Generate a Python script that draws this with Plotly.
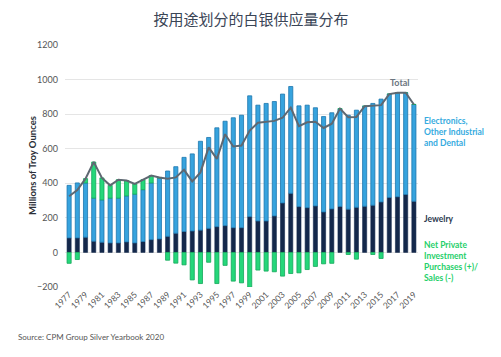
import plotly.graph_objects as go

years = list(range(1977, 2020))

jewelry = [84, 84, 88, 65, 59, 55, 55, 61, 55, 63, 74, 78, 93, 111, 121, 124, 129, 139,
           149, 155, 143, 143, 207, 182, 182, 211, 286, 342, 265, 259, 269, 234, 252,
           266, 250, 261, 267, 273, 292, 318, 322, 335, 296]

electronics = [304, 318, 314, 249, 245, 259, 259, 266, 282, 300, 328, 352, 378, 385, 429,
               446, 514, 526, 572, 604, 636, 651, 699, 670, 680, 662, 630, 618, 583, 593,
               568, 552, 556, 563, 544, 562, 579, 589, 595, 598, 602, 589, 560]

investment = [-63, -41, 25, 209, 127, 74, 107, 89, 59, 58, 43, 4, -45, -62, -72, -159,
              -180, -57, -180, -75, -166, -176, -201, -102, -108, -112, -137, -122, -118,
              -99, -81, -66, -63, 3, -12, -39, 0, -12, -35, 0, 0, 0, 0]

total = [j + e + i for j, e, i in zip(jewelry, electronics, investment)]

y_ticks = [-200, 0, 200, 400, 600, 800, 1000, 1200]

C_BLUE = "#36a3de"
C_BLUE_EDGE = "#1d76ad"
C_NAVY = "#14284b"
C_GREEN = "#25d77a"
C_GREEN_EDGE = "#14a85a"
C_LINE = "#5e6872"

FONT = "Lato, 'Noto Sans', sans-serif"

fig = go.Figure()
fig.add_trace(go.Bar(x=years, y=jewelry, name="Jewelry",
                     marker=dict(color=C_NAVY, line=dict(color=C_NAVY, width=0.6))))
fig.add_trace(go.Bar(x=years, y=electronics, name="Electronics",
                     marker=dict(color=C_BLUE, line=dict(color=C_BLUE_EDGE, width=0.8))))
fig.add_trace(go.Bar(x=years, y=investment, name="Investment",
                     marker=dict(color=C_GREEN, line=dict(color=C_GREEN_EDGE, width=0.8))))
fig.add_trace(go.Scatter(x=years, y=total, mode="lines", name="Total",
                         line=dict(color=C_LINE, width=2)))

fig.update_layout(
    width=501, height=357,
    barmode="relative", bargap=0.5,
    showlegend=False,
    plot_bgcolor="white", paper_bgcolor="white",
    margin=dict(l=57, r=91, t=37, b=78, autoexpand=False),
    font=dict(family=FONT, size=9, color="#555"),
    title=dict(text="按用途划分的白银供应量分布", x=(251 - 8) / 501, xanchor="center",
               y=1 - (20 - 8) / 357, yanchor="middle",
               font=dict(family="'Noto Sans CJK SC', sans-serif", size=15, color="#3a4556")),
)

fig.update_xaxes(range=[1976.5, 2019.5], tickmode="array", tickvals=years[::2],
                 ticktext=[str(y) for y in years[::2]], tickangle=-45, automargin=False,
                 showgrid=False, zeroline=False, showline=False,
                 tickfont=dict(size=8.5, color="#555"))
fig.update_yaxes(range=[-200, 1200], tickmode="array", tickvals=y_ticks, automargin=False,
                 showgrid=True, gridcolor="#e5e5e5", gridwidth=1, zeroline=False,
                 tickfont=dict(size=9, color="#555"), ticklabelstandoff=6)

anno_font = "Lato, sans-serif"
fig.add_annotation(x=(32 - 65) / 353, xref="paper", y=0.5, yref="paper",
                   xanchor="center", yanchor="middle", textangle=-90, showarrow=False,
                   text="<b>Millions of Troy Ounces</b>",
                   font=dict(size=9.5, color="#2b2f38", family=anno_font))
fig.add_annotation(x=1.01, xref="paper", y=696, yref="y", xanchor="left", yanchor="middle",
                   text="<b>Electronics,<br>Other Industrial<br>and Dental</b>", showarrow=False,
                   align="left", font=dict(size=8.5, color="#36abe0", family=anno_font))
fig.add_annotation(x=1.01, xref="paper", y=191, yref="y", xanchor="left", yanchor="middle",
                   text="<b>Jewelry</b>", showarrow=False, align="left",
                   font=dict(size=8.5, color="#2b3a4f", family=anno_font))
fig.add_annotation(x=1.01, xref="paper", y=-52, yref="y", xanchor="left", yanchor="middle",
                   text="<b>Net Private<br>Investment<br>Purchases (+)/<br>Sales (-)</b>", showarrow=False,
                   align="left", font=dict(size=8.5, color="#1fcf6a", family=anno_font))
fig.add_annotation(x=2017.3, xref="x", y=985, yref="y", xanchor="center", yanchor="middle",
                   text="<b>Total</b>", showarrow=False,
                   font=dict(size=9, color="#6b7580", family=anno_font))
fig.add_annotation(x=(16 - 65) / 353, xref="paper", y=-(337 - 287) / 242, yref="paper",
                   xanchor="left", yanchor="middle", showarrow=False,
                   text="Source: CPM Group Silver Yearbook 2020",
                   font=dict(size=8, color="#555", family=anno_font))

fig.write_html("out.html")
